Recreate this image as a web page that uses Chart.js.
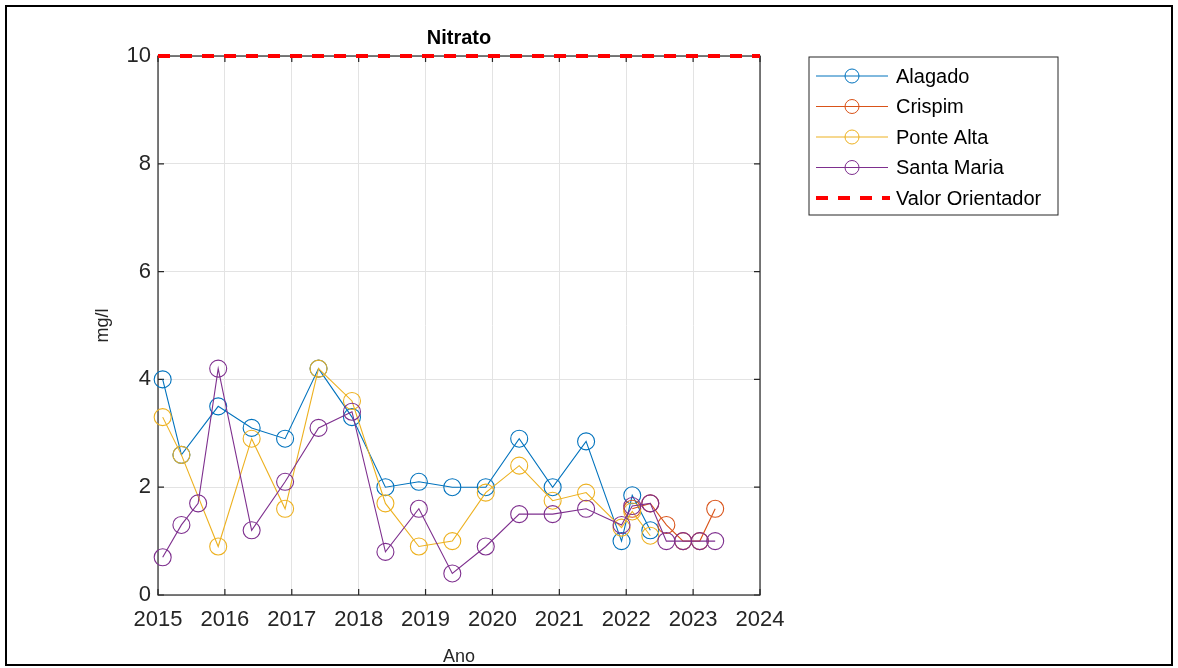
<!DOCTYPE html>
<html>
<head>
<meta charset="utf-8">
<script src="https://cdn.jsdelivr.net/npm/chart.js@4.4.0/dist/chart.umd.min.js"></script>
<style>
  html, body { margin: 0; padding: 0; background: #fff; }
  #wrap { width: 1178px; height: 668px; position: relative; }
</style>
</head>
<body>
<div id="wrap"><canvas id="myChart" width="1178" height="668"></canvas></div>
<script>
// Nitrato - series

const alagadoAnos = [2015.07, 2015.35, 2015.9, 2016.4, 2016.9, 2017.4, 2017.9, 2018.4, 2018.9, 2019.4, 2019.9, 2020.4, 2020.9, 2021.4, 2021.93, 2022.09, 2022.36];
const alagado     = [4.0, 2.6, 3.5, 3.1, 2.9, 4.2, 3.3, 2.0, 2.1, 2.0, 2.0, 2.9, 2.0, 2.85, 1.0, 1.85, 1.2];

const crispimAnos = [2022.09, 2022.36, 2022.6, 2022.85, 2023.1, 2023.33];
const crispim     = [1.6, 1.7, 1.3, 1.0, 1.0, 1.6];

const ponteAltaAnos = [2015.07, 2015.35, 2015.9, 2016.4, 2016.9, 2017.4, 2017.9, 2018.4, 2018.9, 2019.4, 2019.9, 2020.4, 2020.9, 2021.4, 2021.93, 2022.09, 2022.36];
const ponteAlta     = [3.3, 2.6, 0.9, 2.9, 1.6, 4.2, 3.6, 1.7, 0.9, 1.0, 1.9, 2.4, 1.75, 1.9, 1.25, 1.55, 1.1];

const santaMariaAnos = [2015.07, 2015.35, 2015.6, 2015.9, 2016.4, 2016.9, 2017.4, 2017.9, 2018.4, 2018.9, 2019.4, 2019.9, 2020.4, 2020.9, 2021.4, 2021.93, 2022.09, 2022.36, 2022.6, 2022.85, 2023.1, 2023.33];
const santaMaria     = [0.7, 1.3, 1.7, 4.2, 1.2, 2.1, 3.1, 3.4, 0.8, 1.6, 0.4, 0.9, 1.5, 1.5, 1.6, 1.3, 1.65, 1.7, 1.0, 1.0, 1.0, 1.0];

const valorAnos = [2015, 2024];
const valorOrientador = [10, 10];

const xTicks = [2015, 2016, 2017, 2018, 2019, 2020, 2021, 2022, 2023, 2024];
const yTicks = [0, 2, 4, 6, 8, 10];

const legendNames = ['Alagado', 'Crispim', 'Ponte Alta', 'Santa Maria', 'Valor Orientador'];
const colors = ['#0072BD', '#D95319', '#EDB120', '#7E2F8E', '#FF0000'];

function toPoints(xs, ys) {
    return xs.map((x, i) => ({ x: x, y: ys[i] }));
}

function serie(idx, xs, ys, order) {
    return {
        label: legendNames[idx],
        data: toPoints(xs, ys),
        borderColor: colors[idx],
        backgroundColor: 'rgba(0,0,0,0)',
        borderWidth: 1.1,
        pointRadius: 8.5,
        pointHoverRadius: 8.5,
        pointBorderWidth: 1.1,
        pointBorderColor: colors[idx],
        pointBackgroundColor: 'rgba(0,0,0,0)',
        tension: 0,
        clip: false,
        order: order
    };
}

const FONT = "'Liberation Sans', Arial, Helvetica, sans-serif";
const AXIS_COLOR = '#262626';

// axes box, inward ticks, legend box and figure frame, the way matlab draws them
const matlabPlugin = {
    id: 'matlabPlugin',
    beforeDraw(chart) {
        const ctx = chart.ctx;
        ctx.save();
        ctx.fillStyle = '#fff';
        ctx.fillRect(0, 0, chart.width, chart.height);
        ctx.restore();
    },
    beforeDatasetsDraw(chart) {
        const ctx = chart.ctx;
        const a = chart.chartArea;
        const xs = chart.scales.x;
        const ys = chart.scales.y;
        ctx.save();
        ctx.strokeStyle = AXIS_COLOR;
        ctx.lineWidth = 1.2;
        ctx.strokeRect(a.left, a.top, a.right - a.left, a.bottom - a.top);
        ctx.beginPath();
        xTicks.forEach(v => {
            const px = xs.getPixelForValue(v);
            ctx.moveTo(px, a.bottom); ctx.lineTo(px, a.bottom - 6);
            ctx.moveTo(px, a.top); ctx.lineTo(px, a.top + 6);
        });
        yTicks.forEach(v => {
            const py = ys.getPixelForValue(v);
            ctx.moveTo(a.left, py); ctx.lineTo(a.left + 6, py);
            ctx.moveTo(a.right, py); ctx.lineTo(a.right - 6, py);
        });
        ctx.stroke();
        ctx.restore();
    },
    afterDraw(chart) {
        const ctx = chart.ctx;
        ctx.save();

        // figure frame
        ctx.strokeStyle = '#000';
        ctx.lineWidth = 2;
        ctx.strokeRect(6, 6, chart.width - 12, chart.height - 9);

        // legend
        const lx = 809, ly = 57, lw = 249, lh = 158;
        ctx.fillStyle = '#fff';
        ctx.fillRect(lx, ly, lw, lh);
        ctx.strokeStyle = AXIS_COLOR;
        ctx.lineWidth = 1;
        ctx.strokeRect(lx, ly, lw, lh);

        ctx.font = '20px ' + FONT;
        ctx.textBaseline = 'middle';
        legendNames.forEach((name, i) => {
            const y = 76 + i * 30.5;
            ctx.strokeStyle = colors[i];
            if (i < 4) {
                ctx.lineWidth = 1;
                ctx.setLineDash([]);
                ctx.beginPath();
                ctx.moveTo(816, y); ctx.lineTo(888, y);
                ctx.stroke();
                ctx.beginPath();
                ctx.arc(852, y, 7, 0, Math.PI * 2);
                ctx.stroke();
            } else {
                ctx.lineWidth = 4;
                ctx.setLineDash([12, 10]);
                ctx.beginPath();
                ctx.moveTo(816, y); ctx.lineTo(890, y);
                ctx.stroke();
                ctx.setLineDash([]);
            }
            ctx.fillStyle = '#000';
            ctx.fillText(name, 896, y + 1);
        });
        ctx.restore();
    }
};

const ctx = document.getElementById('myChart').getContext('2d');

new Chart(ctx, {
    type: 'line',
    data: {
        datasets: [
            serie(0, alagadoAnos, alagado, 4),
            serie(1, crispimAnos, crispim, 3),
            serie(2, ponteAltaAnos, ponteAlta, 2),
            serie(3, santaMariaAnos, santaMaria, 1),
            {
                label: legendNames[4],
                data: toPoints(valorAnos, valorOrientador),
                borderColor: colors[4],
                borderWidth: 4,
                borderDash: [12, 10],
                pointRadius: 0,
                pointHoverRadius: 0,
                clip: false,
                order: 0
            }
        ]
    },
    options: {
        responsive: false,
        animation: false,
        layout: {
            padding: { left: 0, top: 0, right: 418, bottom: 0 }
        },
        plugins: {
            legend: { display: false },
            tooltip: { enabled: false },
            title: {
                display: true,
                text: 'Nitrato',
                fullSize: false,
                color: '#000',
                font: { family: FONT, size: 20, weight: 'bold', lineHeight: 1.2 },
                padding: { top: 26, bottom: 6 }
            }
        },
        scales: {
            x: {
                type: 'linear',
                min: 2015,
                max: 2024,
                afterFit: function(scale) { scale.height = 73; },
                afterBuildTicks: function(scale) { scale.ticks = xTicks.map(v => ({ value: v })); },
                ticks: {
                    color: AXIS_COLOR,
                    font: { family: FONT, size: 22 },
                    padding: 12,
                    maxRotation: 0,
                    autoSkip: false,
                    callback: function(v) { return String(v); }
                },
                grid: { color: '#e3e3e3', drawTicks: false },
                border: { display: false },
                title: {
                    display: true,
                    text: 'Ano',
                    color: AXIS_COLOR,
                    font: { family: FONT, size: 18 },
                    padding: { top: 0, bottom: 0 }
                }
            },
            y: {
                min: 0,
                max: 10,
                afterFit: function(scale) { scale.width = 158; },
                afterBuildTicks: function(scale) { scale.ticks = yTicks.map(v => ({ value: v })); },
                ticks: {
                    color: AXIS_COLOR,
                    font: { family: FONT, size: 22 },
                    padding: 7
                },
                grid: { color: '#e3e3e3', drawTicks: false },
                border: { display: false },
                title: {
                    display: true,
                    text: 'mg/l',
                    color: AXIS_COLOR,
                    font: { family: FONT, size: 18 },
                    padding: { top: 92, bottom: 0 }
                }
            }
        }
    },
    plugins: [matlabPlugin]
});
</script>
</body>
</html>
